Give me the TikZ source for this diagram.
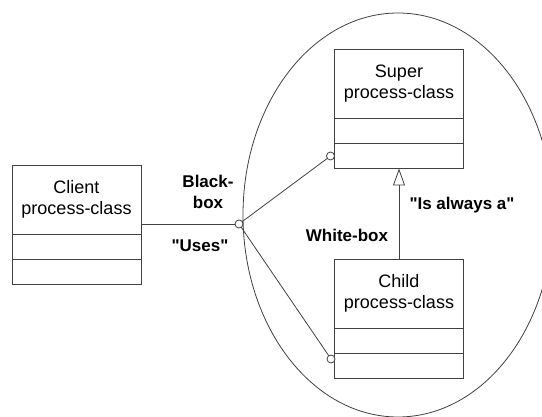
\documentclass[tikz,border=0pt]{standalone}
\usepackage{fontspec}
\setmainfont{Liberation Sans}
\usetikzlibrary{positioning, arrows.meta}

\begin{document}
\begin{tikzpicture}[x=1pt, y=-1pt,
		every node/.style={inner sep=0pt, outer sep=0pt},
		wire/.style={draw=black!75, line width=0.8pt},
		classname/.style={wire, minimum width=129pt, minimum height=69pt, align=center, font=\fontsize{18}{21}\selectfont},
		classpart/.style={wire, minimum width=129pt, minimum height=25pt},
		port/.style={wire, circle, fill=white, minimum size=8pt},
		tag/.style={align=center, font=\fontsize{17}{21}\selectfont\bfseries}]
					\useasboundingbox (0,0) rectangle (542,417);
					\draw[wire] (398,215) ellipse [x radius=155, y radius=202];
					
					\node[classname] (client) at (76.5,199.5) {Client\\process-class};
					\node[classpart, below=0pt of client] (clientb) {};
					\node[classpart, below=0pt of clientb] (clientc) {};
					
					\node[classname] (super) at (399,84) {Super\\process-class};
					\node[classpart, below=0pt of super] (superb) {};
					\node[classpart, below=0pt of superb] (superc) {};
					
					\node[classname] (child) at (399,293.5) {Child\\process-class};
					\node[classpart, below=0pt of child] (childb) {};
					\node[classpart, below=0pt of childb] (childc) {};
					
					\node[port] (hub) at (239,224) {};
					\node[port, left=0pt of superc] (sport) {};
					\node[port] (cport) at (331,359) {};
					
					\draw[wire] (hub) -- (hub -| client.east);
					\draw[wire] (hub) -- (sport);
					\draw[wire] (hub) -- (cport);
					\draw[wire, -{Triangle[open, length=17pt, width=12pt]}] (child) -- (superc);
					
					\node[tag] (blackbox) at (208,192) {Black-\\box};
					\node[tag] (uses) at (200,246) {\textquotedbl Uses\textquotedbl};
					\node[tag] (whitebox) at (347,235) {White-box};
					\node[tag] (isa) at (462,205) {\textquotedbl Is always a\textquotedbl};
				\end{tikzpicture}
\end{document}
